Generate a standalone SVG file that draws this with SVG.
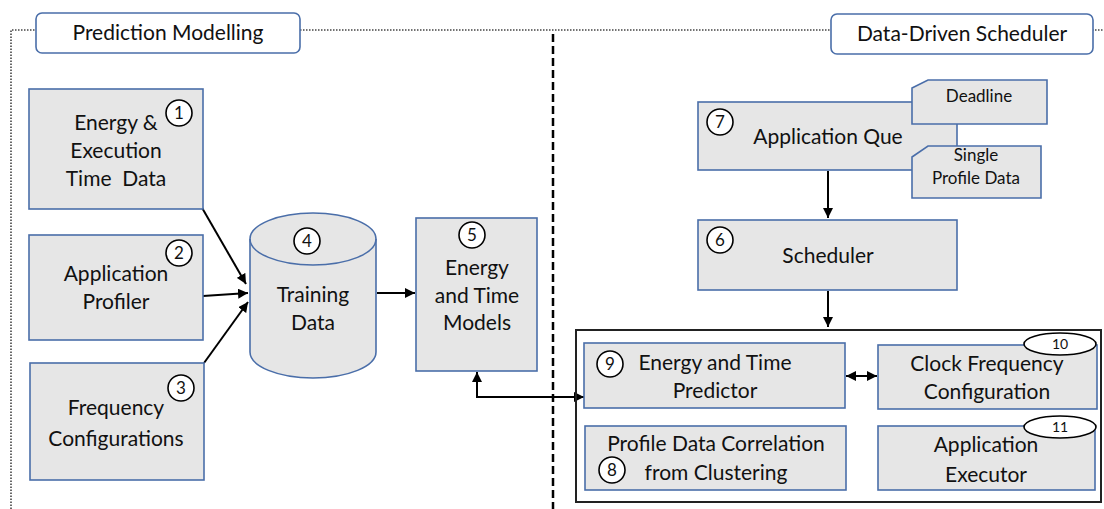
<svg xmlns="http://www.w3.org/2000/svg" width="1104" height="509" viewBox="0 0 1104 509">
  <defs>
    <marker id="arr" viewBox="0 0 10 10" refX="10" refY="5" markerWidth="10" markerHeight="10" markerUnits="userSpaceOnUse" orient="auto-start-reverse">
      <path d="M0,0 L10,5 L0,10 z" fill="#000"/>
    </marker>
  </defs>
  <style>
    .box { fill: #e6e6e6; stroke: #4a6ea9; stroke-width: 1.6; }
    .title { fill: #fff; stroke: #4a6ea9; stroke-width: 1.6; }
    .t { font-family: Lato, "Liberation Sans", sans-serif; font-size: 21px; fill: #111; text-anchor: middle; }
    .ts { font-family: Lato, "Liberation Sans", sans-serif; font-size: 17px; fill: #111; text-anchor: middle; }
    .num { font-family: Lato, "Liberation Sans", sans-serif; font-size: 17px; fill: #111; text-anchor: middle; }
    .num2 { font-family: Lato, "Liberation Sans", sans-serif; font-size: 14px; fill: #111; text-anchor: middle; }
    .badge { fill: #fff; stroke: #000; stroke-width: 1.6; }
    .conn { fill: none; stroke: #000; stroke-width: 2; }
  </style>

  <rect width="1104" height="509" fill="#fff"/>

  <!-- section frame -->
  <g id="frame">
    <path d="M11,509 L11,30 L1104,30" fill="none" stroke="#444" stroke-width="1.6" stroke-dasharray="1.5 1.5"/>
    <line x1="553" y1="34" x2="553" y2="509" stroke="#000" stroke-width="2.5" stroke-dasharray="8 4"/>
  </g>

  <g id="title-prediction">
    <rect class="title" x="36" y="13" width="264" height="40" rx="6"/>
    <text class="t" x="168" y="40">Prediction Modelling</text>
  </g>
  <g id="title-scheduler">
    <rect class="title" x="831" y="14" width="262" height="40" rx="6"/>
    <text class="t" x="962" y="41">Data-Driven Scheduler</text>
  </g>

  <!-- connectors -->
  <g id="connectors">
    <line class="conn" x1="201" y1="206" x2="246" y2="284" marker-end="url(#arr)"/>
    <line class="conn" x1="203" y1="296" x2="248" y2="293" marker-end="url(#arr)"/>
    <line class="conn" x1="204" y1="363" x2="248" y2="302" marker-end="url(#arr)"/>
    <line class="conn" x1="377" y1="293" x2="415" y2="293" marker-end="url(#arr)"/>
    <path class="conn" d="M477,372 L477,397 L584,397" marker-start="url(#arr)" marker-end="url(#arr)"/>
    <line class="conn" x1="828" y1="171" x2="828" y2="218" marker-end="url(#arr)"/>
    <line class="conn" x1="828" y1="291" x2="828" y2="327" marker-end="url(#arr)"/>
    <line class="conn" x1="846" y1="376" x2="877" y2="376" marker-start="url(#arr)" marker-end="url(#arr)"/>
  </g>

  <!-- prediction modelling nodes -->
  <g id="n1">
    <rect class="box" x="29" y="89" width="174" height="120"/>
    <circle class="badge" cx="179" cy="113" r="13"/>
    <text class="num" x="179" y="119">1</text>
    <text class="t" x="116" y="130">Energy &amp;</text>
    <text class="t" x="116" y="158">Execution</text>
    <text class="t" x="116" y="186" style="white-space:pre">Time  Data</text>
  </g>
  <g id="n2">
    <rect class="box" x="29" y="235" width="174" height="105"/>
    <circle class="badge" cx="179" cy="253" r="13"/>
    <text class="num" x="179" y="259">2</text>
    <text class="t" x="116" y="281">Application</text>
    <text class="t" x="116" y="309">Profiler</text>
  </g>
  <g id="n3">
    <rect class="box" x="30" y="363" width="174" height="117"/>
    <circle class="badge" cx="181" cy="388" r="13"/>
    <text class="num" x="181" y="394">3</text>
    <text class="t" x="116" y="415">Frequency</text>
    <text class="t" x="116" y="446">Configurations</text>
  </g>
  <g id="n4">
    <path class="box" d="M250,239 L250,352 A63,26 0 0 0 376,352 L376,239 A63,26 0 0 0 250,239 Z"/>
    <path d="M250,239 A63,26 0 0 0 376,239" fill="none" stroke="#4a6ea9" stroke-width="1.6"/>
    <circle class="badge" cx="307" cy="241" r="13"/>
    <text class="num" x="307" y="247">4</text>
    <text class="t" x="313" y="302">Training</text>
    <text class="t" x="313" y="330">Data</text>
  </g>
  <g id="n5">
    <rect class="box" x="416" y="218" width="121" height="153"/>
    <circle class="badge" cx="472" cy="235" r="13"/>
    <text class="num" x="472" y="241">5</text>
    <text class="t" x="477" y="275">Energy</text>
    <text class="t" x="477" y="303">and Time</text>
    <text class="t" x="477" y="330">Models</text>
  </g>

  <!-- scheduler nodes -->
  <g id="n7">
    <rect class="box" x="698" y="102" width="259" height="68"/>
    <circle class="badge" cx="720" cy="122" r="13"/>
    <text class="num" x="720" y="128">7</text>
    <text class="t" x="828" y="144">Application Que</text>
  </g>
  <g id="n7-deadline">
    <path class="box" d="M912,88 L928,80 L1047,80 L1047,124 L912,124 Z"/>
    <text class="ts" x="979" y="102">Deadline</text>
  </g>
  <g id="n7-profile">
    <path class="box" d="M912,157 L928,146 L1041,146 L1041,198 L912,198 Z"/>
    <text class="ts" x="976" y="161">Single</text>
    <text class="ts" x="976" y="184">Profile Data</text>
  </g>
  <g id="n6">
    <rect class="box" x="698" y="220" width="259" height="70"/>
    <circle class="badge" cx="720" cy="240" r="13"/>
    <text class="num" x="720" y="246">6</text>
    <text class="t" x="828" y="263">Scheduler</text>
  </g>

  <g id="runtime">
    <rect x="576" y="330" width="525" height="172" fill="none" stroke="#222" stroke-width="2"/>
  </g>
  <g id="n9">
    <rect class="box" x="584" y="343" width="261" height="65"/>
    <circle class="badge" cx="610" cy="364" r="13"/>
    <text class="num" x="610" y="370">9</text>
    <text class="t" x="715" y="370">Energy and Time</text>
    <text class="t" x="715" y="398">Predictor</text>
  </g>
  <g id="n10">
    <rect class="box" x="878" y="345" width="219" height="64"/>
    <ellipse class="badge" cx="1060" cy="344" rx="36" ry="11"/>
    <text class="num2" x="1060" y="349">10</text>
    <text class="t" x="987" y="371">Clock Frequency</text>
    <text class="t" x="987" y="399">Configuration</text>
  </g>
  <g id="n8">
    <rect class="box" x="585" y="426" width="261" height="64"/>
    <circle class="badge" cx="612" cy="470" r="13"/>
    <text class="num" x="612" y="476">8</text>
    <text class="t" x="716" y="451">Profile Data Correlation</text>
    <text class="t" x="716" y="480">from Clustering</text>
  </g>
  <g id="n11">
    <rect class="box" x="878" y="426" width="217" height="64"/>
    <ellipse class="badge" cx="1060" cy="427" rx="36" ry="11"/>
    <text class="num2" x="1060" y="432">11</text>
    <text class="t" x="986" y="452">Application</text>
    <text class="t" x="986" y="482">Executor</text>
  </g>
</svg>
